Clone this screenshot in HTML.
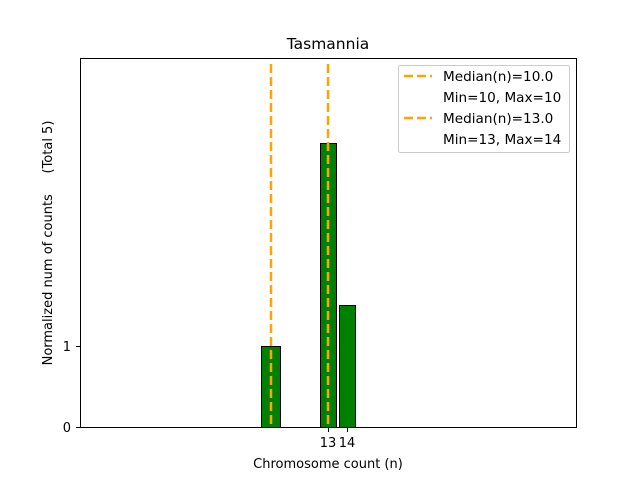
<!DOCTYPE html>
<html><head><meta charset="utf-8"><style>body{margin:0;background:#fff}</style></head><body>
<svg width="640" height="480" xmlns="http://www.w3.org/2000/svg" font-family="DejaVu Sans, Liberation Sans, sans-serif">
<rect width="640" height="480" fill="#fff"/>
<g stroke="#000" stroke-width="1">
<rect x="261.5" y="346.5" width="19" height="81" fill="#008000"/>
<rect x="320.5" y="143.5" width="16" height="284" fill="#008000"/>
<rect x="339.5" y="305.5" width="16" height="122" fill="#008000"/>
</g>
<g stroke="#FFA500" stroke-width="2.5" stroke-dasharray="9,4">
<line x1="271" y1="64" x2="271" y2="427"/>
<line x1="328" y1="64" x2="328" y2="427"/>
</g>
<rect x="80.5" y="58.5" width="496" height="369" fill="none" stroke="#000"/>
<g stroke="#000"><line x1="76" y1="427.5" x2="80" y2="427.5"/><line x1="76" y1="346.5" x2="80" y2="346.5"/>
<line x1="328.5" y1="428" x2="328.5" y2="432"/><line x1="347.5" y1="428" x2="347.5" y2="432"/></g>
<g font-size="13" fill="#000">
<text x="71" y="432" text-anchor="end">0</text>
<text x="71" y="351" text-anchor="end">1</text>
<text x="328" y="447" text-anchor="middle">13</text>
<text x="347" y="447" text-anchor="middle">14</text>
<text x="328" y="468" text-anchor="middle">Chromosome count (n)</text>
<text transform="translate(52,243) rotate(-90)" text-anchor="middle" xml:space="preserve">Normalized num of counts     (Total 5)</text>
</g>
<text x="328" y="49" text-anchor="middle" font-size="15.5">Tasmannia</text>
<rect x="398.5" y="65.5" width="171" height="87" rx="2" fill="#fff" fill-opacity="0.8" stroke="#ccc"/>
<g stroke="#FFA500" stroke-width="2.5" stroke-dasharray="9,4">
<line x1="404" y1="76" x2="432" y2="76"/><line x1="404" y1="118" x2="432" y2="118"/></g>
<g font-size="13.6" fill="#000">
<text x="443" y="81">Median(n)=10.0</text>
<text x="443" y="102">Min=10, Max=10</text>
<text x="443" y="123">Median(n)=13.0</text>
<text x="443" y="144">Min=13, Max=14</text>
</g>
</svg>
</body></html>
